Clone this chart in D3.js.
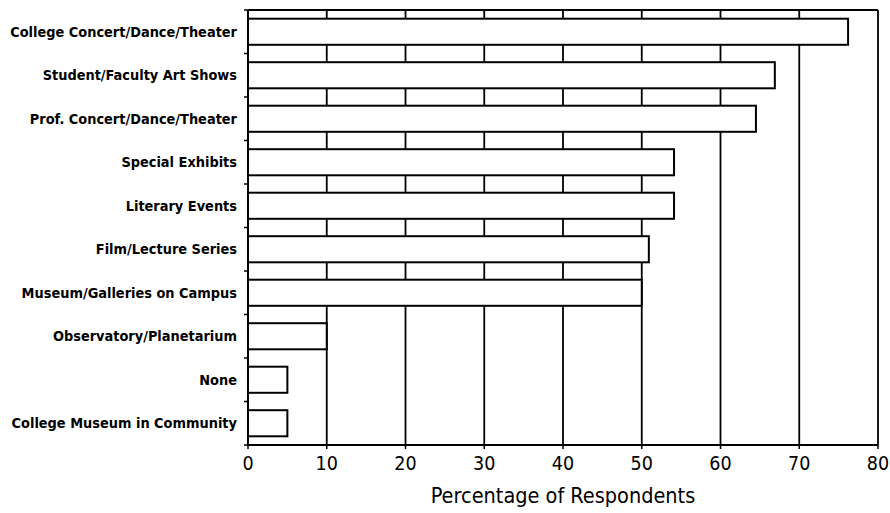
<!DOCTYPE html>
<html><head><meta charset="utf-8">
<script src="https://cdn.jsdelivr.net/npm/d3@7"></script>
<style>body{margin:0;background:#fff}</style>
</head><body>
<svg id="c" width="890" height="513"></svg>
<script>
const categories = ["College Concert/Dance/Theater","Student/Faculty Art Shows","Prof. Concert/Dance/Theater","Special Exhibits","Literary Events","Film/Lecture Series","Museum/Galleries on Campus","Observatory/Planetarium","None","College Museum in Community"];
const values = [76.2, 66.9, 64.5, 54.1, 54.1, 50.9, 50, 10, 5, 5];
const xTicks = [0,10,20,30,40,50,60,70,80];
const xTitle = "Percentage of Respondents";

const svg = d3.select("#c");
const m = {l:248, r:12, t:10, b:68};
const W = 890, H = 513;
const x = d3.scaleLinear().domain([0,80]).range([m.l, W-m.r]);
const y = d3.scaleBand().domain(categories).range([m.t, H-m.b]).paddingInner(0.4).paddingOuter(0.2);
const yb = d3.scaleBand().domain(categories).range([m.t, H-m.b]);

const narrow = "'Liberation Sans Narrow','DejaVu Sans Condensed',sans-serif";

// grid lines
svg.append("g").selectAll("line").data(xTicks.slice(1)).join("line")
  .attr("x1", d=>x(d)).attr("x2", d=>x(d)).attr("y1", m.t).attr("y2", H-m.b)
  .attr("stroke","#000").attr("stroke-width",1.8);
// top border
svg.append("line").attr("x1",x(0)).attr("x2",x(80)).attr("y1",m.t).attr("y2",m.t)
  .attr("stroke","#000").attr("stroke-width",1.8);

// bars
svg.append("g").selectAll("rect").data(categories).join("rect")
  .attr("x", x(0)).attr("y", d=>y(d))
  .attr("width", (d,i)=>x(values[i])-x(0)).attr("height", y.bandwidth())
  .attr("fill","#fff").attr("stroke","#000").attr("stroke-width",2);

// left axis
const gy = svg.append("g");
gy.append("line").attr("x1",x(0)).attr("x2",x(0)).attr("y1",m.t).attr("y2",H-m.b).attr("stroke","#000").attr("stroke-width",2);
const bounds = categories.map(c=>yb(c)).concat([H-m.b]);
gy.selectAll("line.t").data(bounds).join("line").attr("class","t")
  .attr("x1",x(0)-4).attr("x2",x(0)).attr("y1",d=>d).attr("y2",d=>d).attr("stroke","#000").attr("stroke-width",1.5);
gy.selectAll("text").data(categories).join("text")
  .attr("x", x(0)-11).attr("y", d=>y(d)+y.bandwidth()/2).attr("dy","0.35em")
  .attr("text-anchor","end").attr("font-family",narrow).attr("font-weight","bold")
  .attr("font-size",14.4).text(d=>d);

// bottom axis
const gx = svg.append("g").attr("transform",`translate(0,${H-m.b})`);
gx.append("line").attr("x1",x(0)).attr("x2",x(80)).attr("stroke","#000").attr("stroke-width",2);
gx.selectAll("line.t").data(xTicks).join("line").attr("class","t")
  .attr("x1",d=>x(d)).attr("x2",d=>x(d)).attr("y1",0).attr("y2",4).attr("stroke","#000").attr("stroke-width",1.5);
gx.selectAll("text").data(xTicks).join("text")
  .attr("x",d=>x(d)).attr("y",25).attr("text-anchor","middle")
  .attr("font-family",narrow).attr("font-size",19.5).text(d=>d);

svg.append("text").attr("x",(x(0)+x(80))/2).attr("y",503).attr("text-anchor","middle")
  .attr("font-family",narrow).attr("font-size",21.5).text(xTitle);
</script>
</body></html>
